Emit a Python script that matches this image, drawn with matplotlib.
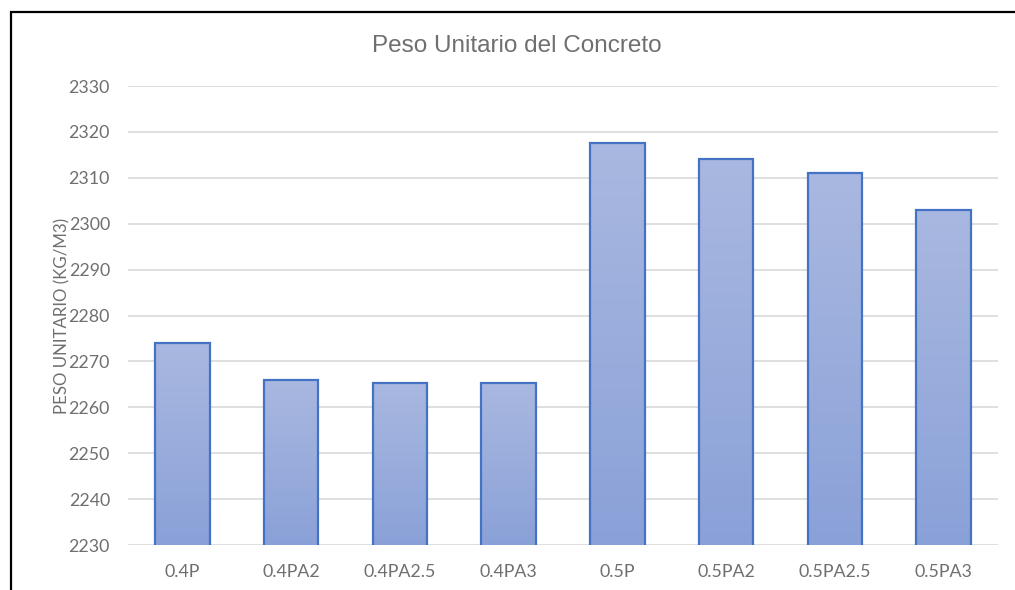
import numpy as np
import matplotlib
matplotlib.use("Agg")
import matplotlib.pyplot as plt
from matplotlib.patches import Rectangle
from matplotlib.colors import LinearSegmentedColormap

categories = ["0.4P", "0.4PA2", "0.4PA2.5", "0.4PA3", "0.5P", "0.5PA2", "0.5PA2.5", "0.5PA3"]
peso_unitario = [2274, 2266, 2265.3, 2265.3, 2317.5, 2314, 2311, 2303]
y_ticks = [2230, 2240, 2250, 2260, 2270, 2280, 2290, 2300, 2310, 2320, 2330]

title = "Peso Unitario del Concreto"
y_label = "PESO UNITARIO (KG/M3)"

text_color = "#6F6F6F"
grid_color = "#D9D9D9"
edge_color = "#4472C4"
grad = LinearSegmentedColormap.from_list("barfill", ["#8AA1D8", "#A9B8E0"])

fig = plt.figure(figsize=(10.15, 5.9), dpi=100)
ax = fig.add_axes([128 / 1015, 1 - 545 / 590, 870 / 1015, (545 - 86) / 590])

ymin, ymax = y_ticks[0], y_ticks[-1]
ax.set_ylim(ymin, ymax)
ax.set_xlim(-0.5, len(categories) - 0.5)

x = np.arange(len(categories))
bars = ax.bar(x, peso_unitario, width=0.5, bottom=0, color="none",
              edgecolor=edge_color, linewidth=1.6, zorder=3)
grad_img = np.linspace(0, 1, 256).reshape(-1, 1)
for b in bars:
    x0 = b.get_x()
    w = b.get_width()
    h = b.get_height()
    im = ax.imshow(grad_img, cmap=grad, aspect="auto", origin="lower",
                   extent=[x0, x0 + w, ymin, h], zorder=2)
    im.set_clip_path(b)

ax.set_xticks(x)
ax.set_xticklabels(categories, fontfamily="Lato", fontsize=12.8, color=text_color)
ax.set_yticks(y_ticks)
ax.set_yticklabels([str(t) for t in y_ticks], fontfamily="Lato", fontsize=12.8, color=text_color)
ax.tick_params(axis="both", length=0)
ax.tick_params(axis="x", pad=14)
ax.tick_params(axis="y", pad=13)
ax.yaxis.grid(True, color=grid_color, linewidth=1.2, zorder=0)
ax.set_axisbelow(True)
for s in ax.spines.values():
    s.set_visible(False)

ax.set_ylabel(y_label, fontfamily="Lato", fontsize=12.2, color=text_color, labelpad=-1)

fig.text(517 / 1015, 1 - 46 / 590, title, ha="center", va="center",
         fontfamily="Liberation Sans", fontsize=17.5, color=text_color)

# outer chart frame
fig.patches.append(Rectangle((10.5 / 1015, -0.1), 1.2, 1 - 12.5 / 590 + 0.1,
                             transform=fig.transFigure, fill=False,
                             edgecolor="#000000", linewidth=1.6, zorder=10))

fig.savefig("out.png", dpi=100, facecolor="white")
